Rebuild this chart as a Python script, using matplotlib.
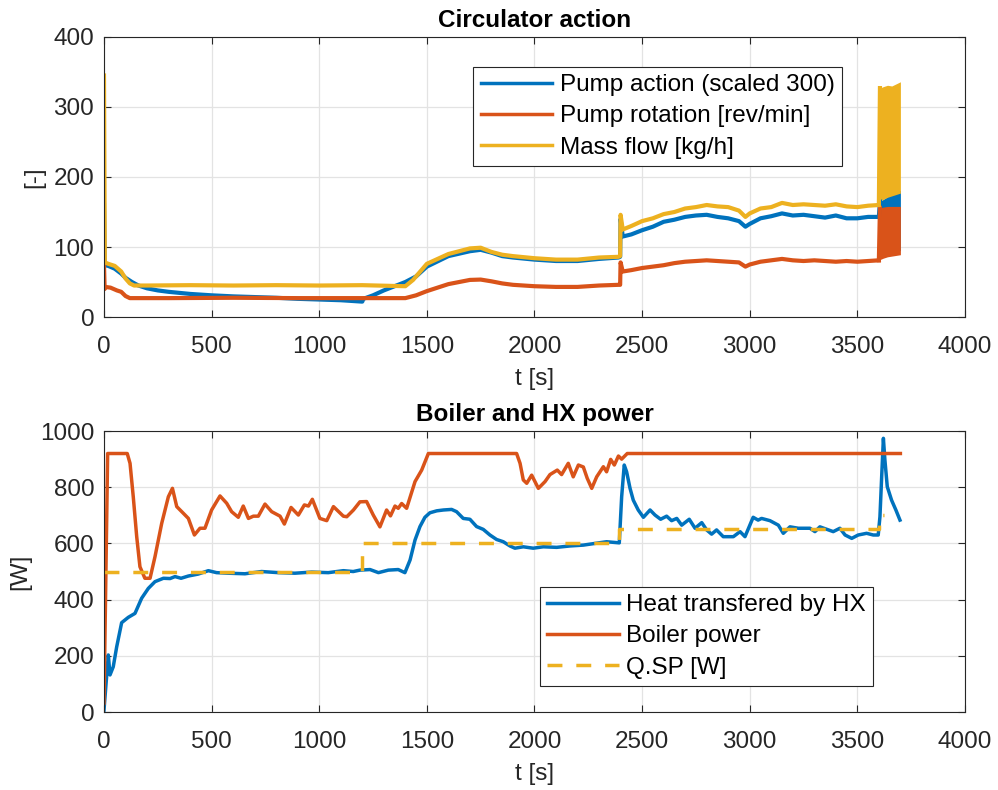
import matplotlib
matplotlib.use('Agg')
import matplotlib.pyplot as plt

plt.rcParams['font.family'] = ['Liberation Sans', 'DejaVu Sans']

c_blue = '#0072BD'
c_red = '#D95319'
c_yel = '#EDB120'

####################################
## Circulator action data
t_pump = [0, 3, 6, 20, 50, 80, 100, 130, 160, 200, 250, 300, 400, 500, 600, 700, 800,
          900, 1000, 1100, 1200, 1205, 1250, 1300, 1350, 1400, 1450, 1500, 1600, 1700,
          1750, 1800, 1850, 1900, 2000, 2100, 2200, 2300, 2390, 2398, 2400, 2410, 2450,
          2500, 2550, 2600, 2650, 2700, 2750, 2800, 2850, 2900, 2950, 2980, 3000, 3050,
          3100, 3150, 3200, 3250, 3300, 3350, 3400, 3450, 3500, 3550, 3600]
pump_action = [160, 75, 74, 73, 69, 62, 56, 50, 45, 41, 38, 36, 33, 31, 29.5, 28.5, 27.5,
               26, 25, 24, 22, 26, 31, 38, 44, 50, 58, 72, 87, 94,
               96, 92, 87, 85, 82, 80, 80, 83, 85, 86, 140, 115, 118,
               124, 129, 136, 139, 143, 145, 146, 143, 141, 137, 129, 133, 141,
               144, 148, 145, 146, 144, 142, 145, 141, 141, 143, 143]

t_rot = [0, 3, 6, 30, 60, 80, 100, 120, 140, 300, 600, 900, 1200, 1400, 1450, 1500,
         1600, 1700, 1750, 1800, 1850, 1900, 2000, 2100, 2200, 2300, 2390, 2398, 2400,
         2410, 2450, 2500, 2550, 2600, 2650, 2700, 2750, 2800, 2850, 2900, 2950, 2980,
         3000, 3050, 3100, 3150, 3200, 3250, 3300, 3350, 3400, 3450, 3500, 3550, 3600]
pump_rotation = [75, 40, 43, 42, 38, 36, 30, 27, 27, 27, 27.5, 27, 27, 27, 31, 37,
                 47, 53, 53.5, 51, 48, 46, 44, 43, 43, 45, 46, 46, 78,
                 65, 67, 70, 72, 74, 77, 79, 80, 81, 80, 79, 78, 72,
                 75, 79, 81, 83, 81, 80, 81, 80, 79, 80, 79, 80, 81]

t_flow = [0, 4, 20, 50, 80, 100, 120, 140, 200, 400, 600, 800, 1000, 1200, 1400, 1436,
          1500, 1600, 1700, 1750, 1800, 1850, 1900, 2000, 2100, 2200, 2300, 2390, 2398,
          2400, 2410, 2450, 2500, 2550, 2600, 2650, 2700, 2750, 2800, 2850, 2900, 2950,
          2980, 3000, 3050, 3100, 3150, 3200, 3250, 3300, 3350, 3400, 3450, 3500, 3550, 3600]
mass_flow = [345, 78, 76, 73, 65, 55, 48, 45, 45, 45.5, 45, 45.5, 45, 45.5, 44, 53,
             76, 90, 98, 99, 93, 89, 87, 84, 82, 82, 85, 86, 87,
             146, 125, 130, 137, 141, 147, 150, 155, 157, 160, 158, 157, 152,
             143, 148, 155, 157, 163, 160, 161, 160, 159, 161, 158, 157, 159, 160]

# oscillating end segment (envelopes)
t_band = [3605, 3620, 3640, 3660, 3680, 3700]
pump_action_lo = [90, 91, 92, 93, 94, 95]
pump_action_hi = [165, 168, 172, 175, 178, 181]
pump_rotation_lo = [82, 84, 86, 87, 88, 89]
pump_rotation_hi = [156, 157, 158, 158, 158, 158]
mass_flow_lo = [165, 168, 171, 173, 175, 177]
mass_flow_hi = [327, 329, 331, 330, 333, 336]

####################################
## Boiler and HX power data
t_boil = [0, 17, 108, 121, 136, 152, 167, 190, 214, 237, 268, 299, 318, 338, 369, 392,
          420, 446, 469, 500, 539, 570, 593, 624, 647, 671, 694, 717, 748, 779, 818, 838,
          869, 903, 931, 950, 968, 1003, 1035, 1066, 1112, 1128, 1159, 1189, 1220, 1251,
          1282, 1313, 1331, 1352, 1367, 1383, 1406, 1445, 1476, 1507, 1917, 1933, 1948,
          1964, 1987, 2018, 2049, 2072, 2106, 2126, 2157, 2180, 2204, 2227, 2245, 2266,
          2289, 2320, 2335, 2354, 2371, 2390, 2405, 2431, 3700]
boiler_power = [32, 920, 920, 885, 766, 624, 517, 476, 476, 553, 671, 766, 796, 731, 707, 689,
                630, 654, 654, 719, 769, 743, 713, 693, 733, 689, 697, 697, 740, 713, 697, 669,
                728, 701, 737, 733, 757, 689, 681, 731, 697, 695, 719, 748, 749, 701,
                659, 719, 698, 733, 725, 742, 725, 820, 861, 920, 920, 885, 826,
                814, 843, 796, 820, 845, 861, 845, 885, 837, 879, 872, 832, 796,
                837, 873, 855, 899, 879, 911, 900, 920, 920]

t_hx = [0, 20, 28, 43, 59, 82, 113, 144, 175, 206, 237, 276, 307, 330, 358, 392, 438,
        485, 523, 577, 655, 732, 810, 887, 965, 1042, 1112, 1158, 1189, 1236, 1275, 1321,
        1367, 1398, 1422, 1445, 1468, 1491, 1514, 1546, 1577, 1615, 1638, 1669, 1700,
        1731, 1762, 1793, 1824, 1855, 1886, 1909, 1948, 1994, 2041, 2103, 2165, 2227,
        2281, 2335, 2394, 2405, 2417, 2428, 2444, 2459, 2482, 2506, 2537, 2560, 2586,
        2614, 2637, 2661, 2684, 2719, 2746, 2777, 2800, 2823, 2846, 2877, 2924, 2955,
        2978, 3016, 3039, 3055, 3094, 3133, 3156, 3187, 3226, 3280, 3303, 3326, 3388,
        3419, 3443, 3474, 3504, 3543, 3574, 3597, 3605, 3613, 3621, 3628, 3639, 3659,
        3679, 3698]
heat_hx = [7, 203, 132, 161, 232, 318, 337, 351, 405, 440, 464, 476, 475, 482, 476, 484, 491,
           503, 496, 494, 492, 500, 496, 494, 498, 496, 503, 500, 505, 507, 496, 505,
           507, 496, 541, 612, 660, 693, 709, 716, 719, 721, 713, 689, 686,
           660, 650, 630, 614, 606, 591, 583, 588, 583, 588, 586, 591, 594,
           600, 606, 602, 766, 879, 855, 796, 754, 719, 693, 719, 701, 686,
           697, 681, 689, 665, 686, 654, 674, 648, 633, 648, 624, 624, 642,
           624, 693, 683, 689, 681, 665, 636, 659, 654, 654, 642, 659, 642,
           654, 630, 618, 630, 636, 630, 630, 695, 837, 974, 897, 802, 754,
           719, 683]

t_sp = [0, 1197, 1197, 2394, 2394, 3600, 3600, 3625]
q_sp = [500, 500, 600, 600, 650, 650, 700, 700]

fs = 17.5
lw = 2.5
dark = '#262626'

fig = plt.figure(figsize=(9.98, 7.90), dpi=100)
ax1 = fig.add_axes([0.1042, 0.5987, 0.8627, 0.3545])
ax2 = fig.add_axes([0.1042, 0.0987, 0.8627, 0.3557])

def style(ax, ylim, yticks):
    ax.set_xlim(0, 4000)
    ax.set_ylim(*ylim)
    ax.set_xticks(range(0, 4001, 500))
    ax.set_yticks(yticks)
    ax.grid(True, color='#e3e3e3', linewidth=0.9)
    ax.set_axisbelow(True)
    ax.tick_params(direction='in', length=5, width=0.8, labelsize=fs,
                   colors=dark, top=True, right=True)
    ax.tick_params(axis='x', pad=14)
    ax.tick_params(axis='y', pad=7)
    for s in ax.spines.values():
        s.set_color(dark)
        s.set_linewidth(0.8)
    ax.set_xlabel('t [s]', fontsize=fs, color=dark, labelpad=7)

def legend_style(leg):
    leg.get_frame().set_linewidth(0.8)

leg_kw = dict(fontsize=fs, fancybox=False, framealpha=1, edgecolor=dark,
              handlelength=2.95, labelspacing=0.38, borderpad=0.3, handletextpad=0.3,
              borderaxespad=0)

####################################
## Circulator action
style(ax1, (0, 400), range(0, 401, 100))
lw1 = 3.0
l1, = ax1.plot(t_pump, pump_action, color=c_blue, lw=lw1, label='Pump action (scaled 300)')
ax1.fill_between(t_band, pump_action_lo, pump_action_hi, color=c_blue, lw=0)
ax1.plot([t_pump[-1], t_band[0]], [pump_action[-1], pump_action_hi[0]], color=c_blue, lw=lw1)
l2, = ax1.plot(t_rot, pump_rotation, color=c_red, lw=lw1, label='Pump rotation [rev/min]')
ax1.fill_between(t_band, pump_rotation_lo, pump_rotation_hi, color=c_red, lw=0)
ax1.plot([t_rot[-1], t_band[0]], [pump_rotation[-1], pump_rotation_hi[0]], color=c_red, lw=lw1)
l3, = ax1.plot(t_flow, mass_flow, color=c_yel, lw=lw1, label='Mass flow [kg/h]')
ax1.fill_between(t_band, mass_flow_lo, mass_flow_hi, color=c_yel, lw=0)
ax1.plot([t_flow[-1], t_band[0]], [mass_flow[-1], mass_flow_hi[0]], color=c_yel, lw=lw1)
ax1.set_ylabel('[-]', fontsize=fs, color=dark, labelpad=6)
ax1.set_title('Circulator action', fontsize=fs, fontweight='bold', pad=7)
leg1 = ax1.legend(handles=[l1, l2, l3], loc='upper right', bbox_to_anchor=(0.857, 0.893),
                  **leg_kw)
for h in leg1.get_lines():
    h.set_linewidth(lw)
legend_style(leg1)

####################################
## Boiler and HX power
style(ax2, (0, 1000), range(0, 1001, 200))
ax2.plot(t_hx, heat_hx, color=c_blue, lw=lw, label='Heat transfered by HX')
ax2.plot(t_boil, boiler_power, color=c_red, lw=lw, label='Boiler power')
ax2.plot(t_sp, q_sp, color=c_yel, lw=lw, ls=(0, (4.3, 4.0)), label='Q.SP [W]')
ax2.set_ylabel('[W]', fontsize=fs, color=dark, labelpad=6)
ax2.set_title('Boiler and HX power', fontsize=fs, fontweight='bold', pad=7)
leg2 = ax2.legend(loc='lower right', bbox_to_anchor=(0.893, 0.0925), **leg_kw)
legend_style(leg2)

plt.savefig('out.png', dpi=100)
